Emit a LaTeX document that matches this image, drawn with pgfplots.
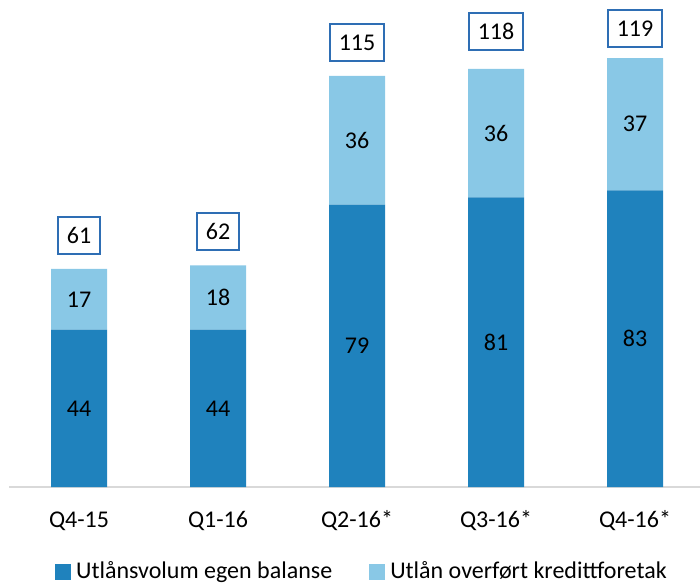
\documentclass[border=0pt]{standalone}
\usepackage{fontspec}
\setmainfont{Carlito}
\usepackage{pgfplots}
\pgfplotsset{compat=1.18}
\definecolor{darkbar}{RGB}{31,130,189}
\definecolor{lightbar}{RGB}{137,200,230}
\definecolor{boxblue}{RGB}{46,110,180}
\definecolor{axisgray}{RGB}{217,217,217}
\pgfplotsset{base/.style={
  at={(9.5pt,96pt)}, anchor=south west,
  scale only axis, width=695pt, height=487pt,
  xmin=-0.5, xmax=4.5, ymin=0, ymax=136.26,
  /pgf/number format/assume math mode=true,
  clip=false}}
\begin{document}
\fontsize{24}{28}\selectfont
\begin{tikzpicture}[x=1pt,y=1pt]
\useasboundingbox (0,0) rectangle (700,583);
\begin{axis}[base,
  ybar stacked, bar width=56pt,
  axis x line*=bottom, hide y axis,
  axis line style={draw=axisgray, line width=2pt},
  xtick={0,1,2,3,4}, xticklabels={Q4-15,Q1-16,Q2-16*,Q3-16*,Q4-16*},
  major tick length=0pt, ytick=\empty,
  xticklabel style={anchor=base, yshift=-40pt},
  legend columns=2,
  legend style={at={(0.507,-0.174)}, anchor=center, draw=none, fill=none,
    /tikz/every odd column/.append style={column sep=3pt},
    /tikz/every even column/.append style={column sep=35pt}},
  legend image code/.code={\fill[#1] (0pt,-8pt) rectangle (16pt,8pt);},
  legend cell align=left,
]
\addplot[fill=darkbar, draw=none]
  coordinates {(0,44) (1,44) (2,79) (3,81) (4,83)};
\addlegendentry{Utlånsvolum egen balanse}
\addplot[fill=lightbar, draw=none]
  coordinates {(0,17) (1,18) (2,36) (3,36) (4,37)};
\addlegendentry{Utlån overført kredittforetak}
\end{axis}
\begin{axis}[base, hide axis]
% segment labels at segment midpoints, value as meta
\addplot[draw=none, mark=none, point meta=explicit, nodes near coords,
  every node near coord/.append style={anchor=center, text=black}]
  coordinates {(0,22) [44] (1,22) [44] (2,39.5) [79] (3,40.5) [81] (4,41.5) [83]};
\addplot[draw=none, mark=none, point meta=explicit, nodes near coords,
  every node near coord/.append style={anchor=center, text=black}]
  coordinates {(0,52.5) [17] (1,53) [18] (2,97) [36] (3,99) [36] (4,101.5) [37]};
% totals
\addplot[draw=none, mark=none, point meta=explicit, nodes near coords,
  every node near coord/.append style={anchor=center, text=black, yshift=33.5pt,
    draw=boxblue, line width=2pt, fill=white, text height=16pt, text depth=0pt,
    inner ysep=10.5pt, inner xsep=9pt}]
  coordinates {(0,61) [61] (1,62) [62] (2,115) [115] (3,118) [118] (4,119) [119]};
\end{axis}
\end{tikzpicture}
\end{document}
